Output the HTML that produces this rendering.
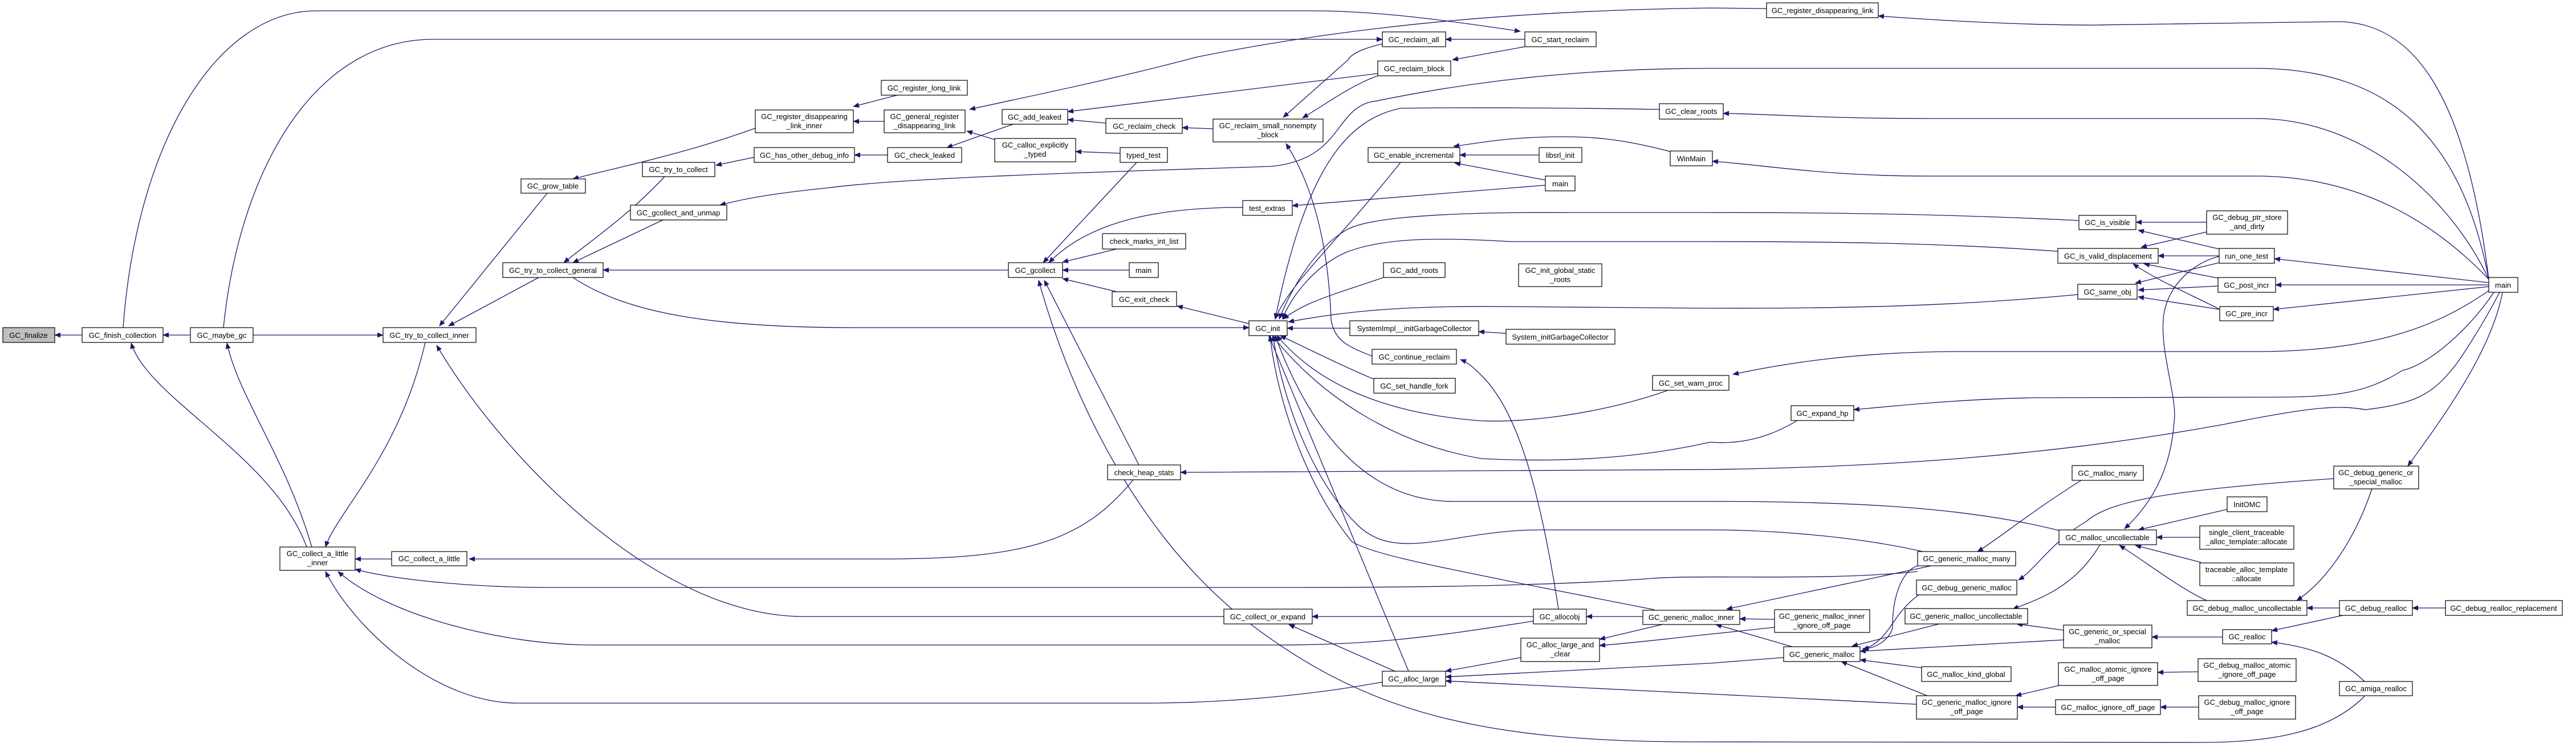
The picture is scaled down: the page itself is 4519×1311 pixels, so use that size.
<!DOCTYPE html>
<html><head><meta charset="utf-8"><style>
html,body{margin:0;padding:0;background:#fff;}
svg{display:block;}
.e{fill:none;stroke:#191970;stroke-width:1.3;marker-end:url(#a);}
rect{fill:#fff;stroke:#000;stroke-width:1.2;}
text{font-family:"Liberation Sans",sans-serif;font-size:13px;text-anchor:middle;fill:#000;}
</style></head><body>
<svg width="4519" height="1311" viewBox="0 0 4519 1311" xmlns="http://www.w3.org/2000/svg">
<defs><marker id="a" markerWidth="11" markerHeight="9" refX="10" refY="4.5" orient="auto" markerUnits="userSpaceOnUse"><path d="M0,0 L11,4.5 L0,9z" fill="#191970"/></marker></defs>
<g>
<path class="e" d="M144,588 L96,588"/>
<path class="e" d="M334,588 L286,588"/>
<path class="e" d="M444,588 L672,588"/>
<path class="e" d="M538,960 C480,800 260,700 230,602"/>
<path class="e" d="M547,960 C500,800 420,700 398,602"/>
<path class="e" d="M746,601 C700,800 590,900 571,960"/>
<path class="e" d="M2147,1082 L1410,1082 C1150,1082 880,800 766,606"/>
<path class="e" d="M960,339 L771,572"/>
<path class="e" d="M945,487 L787,572"/>
<path class="e" d="M1325,225 C1200,270 1100,290 1005,314"/>
<path class="e" d="M1323,276 L1256,290"/>
<path class="e" d="M1166,310 C1100,380 1040,420 989,461"/>
<path class="e" d="M1163,386 L1005,461"/>
<path class="e" d="M4366,490 C4320,250 4200,120 3957,120 L3000,120 C2700,120 2500,160 2400,180 C2340,200 2350,280 2230,292 C2000,300 1600,310 1450,330 C1350,340 1300,350 1263,360"/>
<path class="e" d="M1769,474 L1058,474"/>
<path class="e" d="M1005,487 C1100,550 1250,575 1500,575 L2191,575"/>
<path class="e" d="M687,981 L623,981"/>
<path class="e" d="M1988,842 C1900,950 1800,981 1550,981 L823,981"/>
<path class="e" d="M3364,1003 C3200,1020 3000,1008 2900,1015 C2700,1030 2400,1031 2265,1031 L957,1031 C850,1031 700,1020 623,999"/>
<path class="e" d="M2690,1090 C2500,1120 2400,1132 2240,1132 L1040,1132 C880,1132 680,1080 593,1003"/>
<path class="e" d="M2425,1197 C2300,1220 2150,1234 2007,1234 L909,1234 C760,1234 620,1100 571,1003"/>
<path class="e" d="M216,575 C240,250 380,19 555,19 L2300,19 C2400,19 2500,30 2667,55"/>
<path class="e" d="M392,575 C420,300 550,69 760,69 L2425,69"/>
<path class="e" d="M2675,69 L2536,69"/>
<path class="e" d="M2675,82 L2548,105"/>
<path class="e" d="M2425,77 C2390,85 2370,95 2365,105 L2251,206"/>
<path class="e" d="M2417,133 C2370,150 2330,180 2285,207"/>
<path class="e" d="M2128,226 L2074,224"/>
<path class="e" d="M1940,216 L1873,210"/>
<path class="e" d="M2417,129 L1873,196"/>
<path class="e" d="M1777,218 L1661,259"/>
<path class="e" d="M1557,272 L1499,272"/>
<path class="e" d="M1551,213 L1497,213"/>
<path class="e" d="M1574,167 L1497,187"/>
<path class="e" d="M3099,15 L3000,14 C2700,18 2400,40 2100,100 C1950,140 1800,170 1701,192"/>
<path class="e" d="M1745,245 L1696,230"/>
<path class="e" d="M1965,269 L1887,266"/>
<path class="e" d="M1994,285 L1830,461"/>
<path class="e" d="M2180,364 C2000,364 1900,400 1840,461"/>
<path class="e" d="M1959,437 L1864,460"/>
<path class="e" d="M1981,474 L1864,474"/>
<path class="e" d="M1959,512 L1864,489"/>
<path class="e" d="M2191,568 L2065,537"/>
<path class="e" d="M4148,1222 C4090,1280 4000,1303 3861,1303 L2974,1302 C2600,1302 2400,1250 2200,1100 C2000,950 1880,700 1822,492"/>
<path class="e" d="M1998,816 L1832,492"/>
<path class="e" d="M2711,325 L2267,361"/>
<path class="e" d="M2711,316 L2552,286"/>
<path class="e" d="M2700,272 L2561,272"/>
<path class="e" d="M2930,266 C2850,245 2800,240 2744,240 C2650,240 2600,250 2550,257"/>
<path class="e" d="M2457,285 C2350,420 2260,500 2237,560"/>
<path class="e" d="M4366,490 C4280,400 4150,309 3957,309 L3383,309 C3200,309 3100,290 3004,283"/>
<path class="e" d="M4366,490 C4300,350 4150,208 3957,208 L3383,208 C3200,208 3100,200 3023,199"/>
<path class="e" d="M2911,192 C2800,190 2600,188 2457,190 C2360,210 2290,300 2237,560"/>
<path class="e" d="M4366,490 C4330,200 4250,38 4100,38 C3900,42 3700,44 3670,44 C3550,44 3400,36 3295,28"/>
<path class="e" d="M3647,387 C3400,375 3200,373 3000,373 L2750,373 C2550,372 2400,380 2361,404 C2300,440 2260,520 2244,560"/>
<path class="e" d="M3610,441 C3400,426 3200,424 3000,424 L2650,424 C2500,415 2420,420 2361,443 C2300,470 2260,530 2250,560"/>
<path class="e" d="M3645,517 C3400,540 3200,541 3000,541 L2640,538 C2450,536 2350,548 2260,565"/>
<path class="e" d="M2427,487 C2330,520 2290,530 2251,560"/>
<path class="e" d="M2368,576 L2258,576"/>
<path class="e" d="M2642,585 L2594,582"/>
<path class="e" d="M2407,625 C2370,610 2340,600 2335,560 C2330,420 2300,320 2256,252"/>
<path class="e" d="M2734,1069 C2700,850 2660,720 2600,660 C2585,645 2575,636 2562,631"/>
<path class="e" d="M2409,665 C2350,640 2290,610 2246,589"/>
<path class="e" d="M2926,685 C2800,730 2650,745 2580,737 C2400,720 2300,660 2240,589"/>
<path class="e" d="M3153,738 C3100,770 3050,780 3000,776 C2850,810 2700,810 2600,805 C2450,780 2320,700 2232,589"/>
<path class="e" d="M4385,513 C4350,580 4310,640 4300,650 C4260,700 4220,710 4150,719 C4100,710 4050,715 3900,745 C3600,800 3300,820 3000,824 L2071,829"/>
<path class="e" d="M3612,931 C3450,890 3250,880 3000,880 L2550,880 C2400,880 2300,760 2237,589"/>
<path class="e" d="M3373,968 C3250,940 3100,930 3000,930 L2700,930 C2550,930 2450,990 2380,920 C2300,840 2250,700 2233,589"/>
<path class="e" d="M2902,1070 L2648,1020 C2500,990 2400,970 2371,950 C2290,850 2240,700 2228,589"/>
<path class="e" d="M2471,1178 L2226,589"/>
<path class="e" d="M3893,450 C3850,460 3800,500 3795,560 C3790,620 3820,700 3814,740 C3810,800 3790,870 3727,928"/>
<path class="e" d="M4375,513 C4330,580 4260,640 4215,650 C4150,690 4100,696 4000,697 L3574,698 C3450,700 3350,710 3252,719"/>
<path class="e" d="M4390,513 C4370,620 4280,740 4224,818"/>
<path class="e" d="M4366,510 C4280,570 4170,617 3957,617 L3440,617 C3250,617 3120,640 3040,657"/>
<path class="e" d="M3871,390 L3747,390"/>
<path class="e" d="M3893,437 L3751,404"/>
<path class="e" d="M3871,407 L3756,434"/>
<path class="e" d="M3893,449 L3786,449"/>
<path class="e" d="M3893,461 L3746,497"/>
<path class="e" d="M3891,488 L3761,463"/>
<path class="e" d="M3894,543 C3850,520 3780,490 3742,463"/>
<path class="e" d="M3891,502 L3751,509"/>
<path class="e" d="M3894,543 L3751,521"/>
<path class="e" d="M4366,496 L3990,454"/>
<path class="e" d="M4366,500 L3992,500"/>
<path class="e" d="M4366,503 L3988,543"/>
<path class="e" d="M3651,843 C3560,900 3500,950 3469,968"/>
<path class="e" d="M4094,840 C3800,860 3700,880 3660,915 C3600,950 3570,1000 3541,1018"/>
<path class="e" d="M3907,894 L3751,930"/>
<path class="e" d="M3859,943 L3783,943"/>
<path class="e" d="M3861,987 L3746,957"/>
<path class="e" d="M3871,1054 C3820,1030 3770,990 3718,957"/>
<path class="e" d="M3684,956 C3640,1030 3580,1050 3531,1069"/>
<path class="e" d="M4161,858 C4130,950 4080,1020 4029,1054"/>
<path class="e" d="M4104,1067 L4047,1067"/>
<path class="e" d="M4290,1067 L4232,1067"/>
<path class="e" d="M4110,1080 L3985,1107"/>
<path class="e" d="M4148,1196 C4100,1150 4050,1135 3985,1127"/>
<path class="e" d="M3899,1118 L3775,1118"/>
<path class="e" d="M3620,1106 L3538,1095"/>
<path class="e" d="M3620,1123 L3263,1143"/>
<path class="e" d="M3402,1095 L3249,1134"/>
<path class="e" d="M3364,993 C3340,1000 3320,1040 3320,1100 C3318,1120 3290,1140 3268,1138"/>
<path class="e" d="M3366,1044 C3330,1070 3320,1100 3300,1120 C3290,1130 3280,1136 3268,1140"/>
<path class="e" d="M3388,993 L3029,1069"/>
<path class="e" d="M3113,1087 L3052,1086"/>
<path class="e" d="M3144,1135 L3010,1096"/>
<path class="e" d="M3371,1172 L3263,1158"/>
<path class="e" d="M3381,1221 L3230,1161"/>
<path class="e" d="M3612,1203 L3536,1221"/>
<path class="e" d="M3606,1241 L3539,1241"/>
<path class="e" d="M3857,1241 L3790,1241"/>
<path class="e" d="M3856,1179 L3785,1180"/>
<path class="e" d="M3113,1101 L3000,1113 C2950,1118 2900,1125 2806,1133"/>
<path class="e" d="M2916,1096 L2806,1122"/>
<path class="e" d="M3129,1154 L3000,1164 L2536,1188"/>
<path class="e" d="M3362,1236 L3000,1218 L2536,1195"/>
<path class="e" d="M2668,1154 L2536,1178"/>
<path class="e" d="M2447,1178 L2261,1096"/>
<path class="e" d="M2690,1082 L2302,1082"/>
<path class="e" d="M2882,1082 L2783,1082"/>
</g>
<g>
<rect x="5" y="575" width="91" height="26" style="fill:#bfbfbf"/><text x="50" y="593">GC_finalize</text>
<rect x="144" y="575" width="142" height="26"/><text x="215" y="593">GC_finish_collection</text>
<rect x="334" y="575" width="110" height="26"/><text x="389" y="593">GC_maybe_gc</text>
<rect x="672" y="575" width="163" height="26"/><text x="753" y="593">GC_try_to_collect_inner</text>
<rect x="914" y="314" width="113" height="25"/><text x="970" y="331">GC_grow_table</text>
<rect x="1127" y="285" width="127" height="25"/><text x="1190" y="302">GC_try_to_collect</text>
<rect x="1106" y="360" width="169" height="26"/><text x="1190" y="378">GC_gcollect_and_unmap</text>
<rect x="882" y="461" width="176" height="26"/><text x="970" y="479">GC_try_to_collect_general</text>
<rect x="1325" y="193" width="172" height="40"/><text x="1411" y="209">GC_register_disappearing</text><text x="1411" y="225">_link_inner</text>
<rect x="1323" y="259" width="176" height="26"/><text x="1411" y="277">GC_has_other_debug_info</text>
<rect x="491" y="960" width="132" height="41"/><text x="557" y="976">GC_collect_a_little</text><text x="557" y="992">_inner</text>
<rect x="687" y="968" width="132" height="25"/><text x="753" y="985">GC_collect_a_little</text>
<rect x="2425" y="56" width="111" height="26"/><text x="2480" y="74">GC_reclaim_all</text>
<rect x="2675" y="56" width="125" height="26"/><text x="2737" y="74">GC_start_reclaim</text>
<rect x="2417" y="107" width="128" height="26"/><text x="2481" y="125">GC_reclaim_block</text>
<rect x="1546" y="141" width="151" height="26"/><text x="1621" y="159">GC_register_long_link</text>
<rect x="1551" y="193" width="142" height="40"/><text x="1622" y="209">GC_general_register</text><text x="1622" y="225">_disappearing_link</text>
<rect x="1758" y="192" width="115" height="26"/><text x="1815" y="210">GC_add_leaked</text>
<rect x="1940" y="208" width="134" height="26"/><text x="2007" y="226">GC_reclaim_check</text>
<rect x="2128" y="209" width="193" height="40"/><text x="2224" y="225">GC_reclaim_small_nonempty</text><text x="2224" y="241">_block</text>
<rect x="1557" y="259" width="130" height="26"/><text x="1622" y="277">GC_check_leaked</text>
<rect x="1745" y="243" width="142" height="41"/><text x="1816" y="259">GC_calloc_explicitly</text><text x="1816" y="275">_typed</text>
<rect x="1965" y="259" width="83" height="26"/><text x="2006" y="277">typed_test</text>
<rect x="2911" y="182" width="112" height="27"/><text x="2967" y="200">GC_clear_roots</text>
<rect x="2400" y="259" width="161" height="26"/><text x="2480" y="277">GC_enable_incremental</text>
<rect x="2700" y="259" width="75" height="26"/><text x="2737" y="277">libsrl_init</text>
<rect x="2930" y="265" width="74" height="26"/><text x="2967" y="283">WinMain</text>
<rect x="2711" y="309" width="52" height="26"/><text x="2737" y="327">main</text>
<rect x="2180" y="352" width="87" height="26"/><text x="2223" y="370">test_extras</text>
<rect x="1934" y="410" width="146" height="27"/><text x="2007" y="428">check_marks_int_list</text>
<rect x="1769" y="461" width="95" height="26"/><text x="1816" y="479">GC_gcollect</text>
<rect x="1981" y="461" width="51" height="26"/><text x="2006" y="479">main</text>
<rect x="1951" y="512" width="113" height="26"/><text x="2007" y="530">GC_exit_check</text>
<rect x="2427" y="461" width="108" height="26"/><text x="2481" y="479">GC_add_roots</text>
<rect x="2664" y="463" width="146" height="40"/><text x="2737" y="479">GC_init_global_static</text><text x="2737" y="495">_roots</text>
<rect x="2191" y="563" width="67" height="26"/><text x="2224" y="581">GC_init</text>
<rect x="2368" y="563" width="226" height="26"/><text x="2481" y="581">SystemImpl__initGarbageCollector</text>
<rect x="2642" y="578" width="191" height="26"/><text x="2737" y="596">System_initGarbageCollector</text>
<rect x="2407" y="613" width="148" height="26"/><text x="2481" y="631">GC_continue_reclaim</text>
<rect x="2410" y="664" width="143" height="26"/><text x="2481" y="682">GC_set_handle_fork</text>
<rect x="2899" y="659" width="134" height="26"/><text x="2966" y="677">GC_set_warn_proc</text>
<rect x="1943" y="816" width="128" height="26"/><text x="2007" y="834">check_heap_stats</text>
<rect x="2147" y="1069" width="155" height="26"/><text x="2224" y="1087">GC_collect_or_expand</text>
<rect x="2690" y="1069" width="93" height="26"/><text x="2736" y="1087">GC_allocobj</text>
<rect x="2882" y="1071" width="170" height="25"/><text x="2967" y="1088">GC_generic_malloc_inner</text>
<rect x="2668" y="1120" width="138" height="41"/><text x="2737" y="1136">GC_alloc_large_and</text><text x="2737" y="1152">_clear</text>
<rect x="2425" y="1178" width="111" height="26"/><text x="2480" y="1196">GC_alloc_large</text>
<rect x="3099" y="5" width="196" height="26"/><text x="3197" y="23">GC_register_disappearing_link</text>
<rect x="3647" y="378" width="100" height="25"/><text x="3697" y="395">GC_is_visible</text>
<rect x="3871" y="370" width="142" height="41"/><text x="3942" y="386">GC_debug_ptr_store</text><text x="3942" y="402">_and_dirty</text>
<rect x="3610" y="436" width="176" height="26"/><text x="3698" y="454">GC_is_valid_displacement</text>
<rect x="3893" y="436" width="97" height="26"/><text x="3941" y="454">run_one_test</text>
<rect x="3645" y="499" width="104" height="26"/><text x="3697" y="517">GC_same_obj</text>
<rect x="3891" y="487" width="101" height="26"/><text x="3941" y="505">GC_post_incr</text>
<rect x="3894" y="538" width="94" height="25"/><text x="3941" y="555">GC_pre_incr</text>
<rect x="4366" y="487" width="51" height="26"/><text x="4391" y="505">main</text>
<rect x="3142" y="712" width="110" height="26"/><text x="3197" y="730">GC_expand_hp</text>
<rect x="3635" y="817" width="125" height="26"/><text x="3697" y="835">GC_malloc_many</text>
<rect x="4094" y="818" width="149" height="40"/><text x="4168" y="834">GC_debug_generic_or</text><text x="4168" y="850">_special_malloc</text>
<rect x="3907" y="872" width="70" height="26"/><text x="3942" y="890">InitOMC</text>
<rect x="3612" y="930" width="171" height="26"/><text x="3697" y="948">GC_malloc_uncollectable</text>
<rect x="3859" y="923" width="165" height="41"/><text x="3941" y="939">single_client_traceable</text><text x="3941" y="955">_alloc_template::allocate</text>
<rect x="3859" y="988" width="165" height="40"/><text x="3941" y="1004">traceable_alloc_template</text><text x="3941" y="1020">::allocate</text>
<rect x="3364" y="968" width="172" height="25"/><text x="3450" y="985">GC_generic_malloc_many</text>
<rect x="3362" y="1018" width="176" height="26"/><text x="3450" y="1036">GC_debug_generic_malloc</text>
<rect x="3342" y="1068" width="215" height="27"/><text x="3449" y="1086">GC_generic_malloc_uncollectable</text>
<rect x="3113" y="1070" width="167" height="40"/><text x="3196" y="1086">GC_generic_malloc_inner</text><text x="3196" y="1102">_ignore_off_page</text>
<rect x="3837" y="1054" width="210" height="26"/><text x="3942" y="1072">GC_debug_malloc_uncollectable</text>
<rect x="4104" y="1054" width="128" height="26"/><text x="4168" y="1072">GC_debug_realloc</text>
<rect x="4290" y="1054" width="205" height="26"/><text x="4392" y="1072">GC_debug_realloc_replacement</text>
<rect x="3620" y="1097" width="155" height="40"/><text x="3697" y="1113">GC_generic_or_special</text><text x="3697" y="1129">_malloc</text>
<rect x="3899" y="1105" width="86" height="25"/><text x="3942" y="1122">GC_realloc</text>
<rect x="3129" y="1135" width="134" height="26"/><text x="3196" y="1153">GC_generic_malloc</text>
<rect x="3371" y="1170" width="157" height="26"/><text x="3449" y="1188">GC_malloc_kind_global</text>
<rect x="3611" y="1163" width="174" height="40"/><text x="3698" y="1179">GC_malloc_atomic_ignore</text><text x="3698" y="1195">_off_page</text>
<rect x="3856" y="1156" width="172" height="40"/><text x="3942" y="1172">GC_debug_malloc_atomic</text><text x="3942" y="1188">_ignore_off_page</text>
<rect x="4104" y="1196" width="128" height="25"/><text x="4168" y="1213">GC_amiga_realloc</text>
<rect x="3362" y="1221" width="177" height="41"/><text x="3450" y="1237">GC_generic_malloc_ignore</text><text x="3450" y="1253">_off_page</text>
<rect x="3606" y="1228" width="184" height="26"/><text x="3698" y="1246">GC_malloc_ignore_off_page</text>
<rect x="3857" y="1221" width="170" height="41"/><text x="3942" y="1237">GC_debug_malloc_ignore</text><text x="3942" y="1253">_off_page</text>
</g>
</svg>
</body></html>
